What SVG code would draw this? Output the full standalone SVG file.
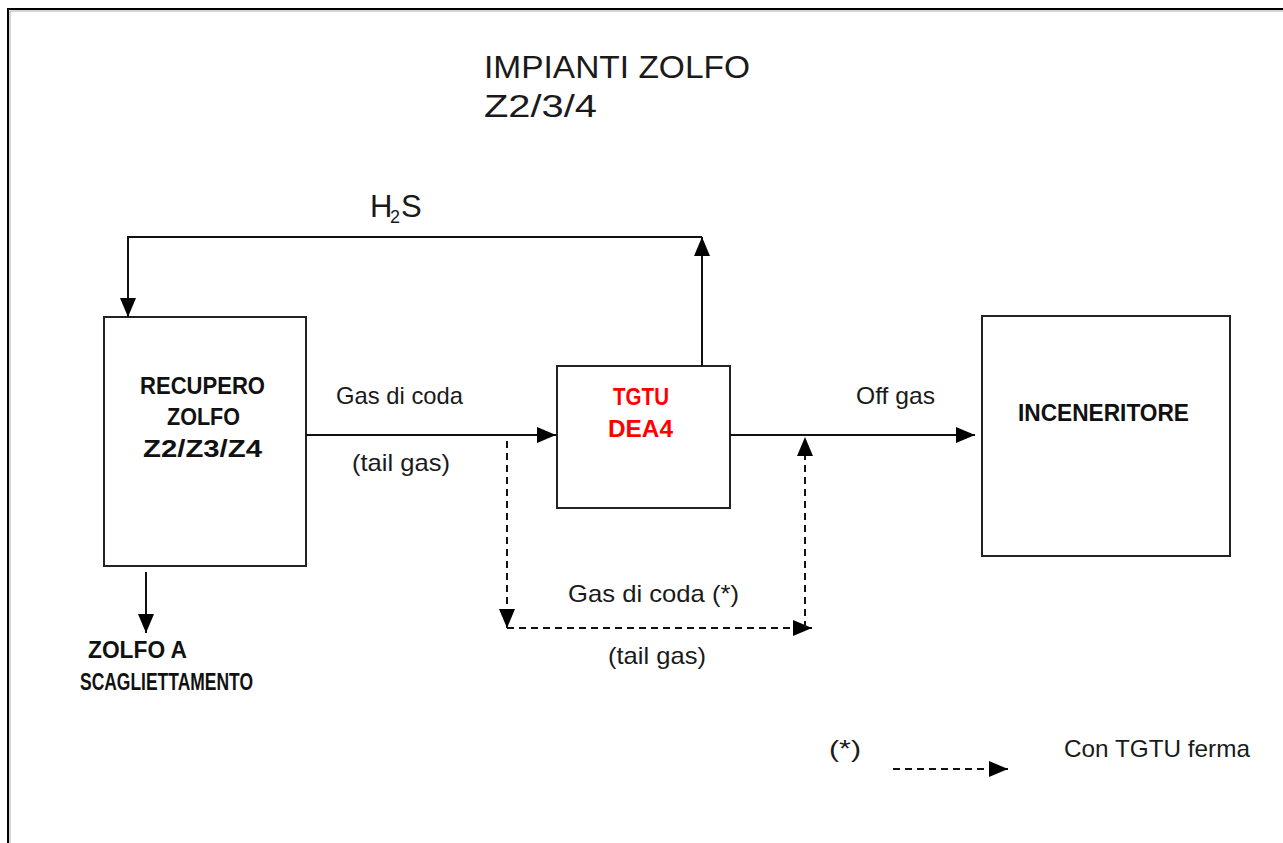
<svg xmlns="http://www.w3.org/2000/svg" width="1283" height="843" viewBox="0 0 1283 843">
<style>
.box{fill:#fff;stroke:#222;stroke-width:2}
.ln{fill:none;stroke:#111;stroke-width:2}
.dash{fill:none;stroke:#111;stroke-width:2;stroke-dasharray:7,5}
.t{font-family:"Liberation Sans",Arial,sans-serif;fill:#1a1a1a}
.b{font-family:"Liberation Sans",Arial,sans-serif;font-weight:bold;fill:#111}
.red{fill:#f00}
</style>
<defs>
<marker id="ah" markerUnits="userSpaceOnUse" markerWidth="20" markerHeight="16" refX="19" refY="8" orient="auto" viewBox="0 0 20 16">
<path d="M0,0 L19,8 L0,16 z" fill="#000"/>
</marker>
</defs>
<rect x="0" y="0" width="1283" height="843" fill="#fff"/>
<path d="M8,843 V9 H1283" fill="none" stroke="#000" stroke-width="2"/>
<path d="M10,843 V11 H1283" fill="none" stroke="#aaa" stroke-width="1"/>
<g id="title">
<text class="t" x="484" y="78" font-size="31" textLength="266" lengthAdjust="spacingAndGlyphs">IMPIANTI ZOLFO</text>
<text class="t" x="484" y="117" font-size="31" textLength="113" lengthAdjust="spacingAndGlyphs">Z2/3/4</text>
</g>
<g id="recupero">
<rect class="box" x="104" y="317" width="202" height="249"/>
<text class="b" x="140" y="394" font-size="23" textLength="125" lengthAdjust="spacingAndGlyphs">RECUPERO</text>
<text class="b" x="167" y="425" font-size="23" textLength="73" lengthAdjust="spacingAndGlyphs">ZOLFO</text>
<text class="b" x="143" y="457" font-size="23" textLength="119" lengthAdjust="spacingAndGlyphs">Z2/Z3/Z4</text>
</g>
<g id="tgtu">
<rect class="box" x="557" y="366" width="173" height="142"/>
<text class="b red" x="613" y="405" font-size="23" textLength="56" lengthAdjust="spacingAndGlyphs">TGTU</text>
<text class="b red" x="608" y="437" font-size="23" textLength="65" lengthAdjust="spacingAndGlyphs">DEA4</text>
</g>
<g id="inceneritore">
<rect class="box" x="982" y="316" width="248" height="240"/>
<text class="b" x="1018" y="421" font-size="23" textLength="171" lengthAdjust="spacingAndGlyphs">INCENERITORE</text>
</g>
<g id="zolfo-out">
<text class="b" x="88" y="658" font-size="23" textLength="99" lengthAdjust="spacingAndGlyphs">ZOLFO A</text>
<text class="b" x="80" y="690" font-size="23" textLength="173" lengthAdjust="spacingAndGlyphs">SCAGLIETTAMENTO</text>
</g>
<g id="connectors">
<line class="ln" x1="702" y1="366" x2="702" y2="237" marker-end="url(#ah)"/>
<polyline class="ln" points="702,237 128,237 128,317" marker-end="url(#ah)"/>
<line class="ln" x1="306" y1="435" x2="556" y2="435" marker-end="url(#ah)"/>
<line class="ln" x1="730" y1="435" x2="975" y2="435" marker-end="url(#ah)"/>
<line class="ln" x1="146" y1="572" x2="146" y2="633" marker-end="url(#ah)"/>
<line class="dash" x1="507" y1="441" x2="507" y2="628" marker-end="url(#ah)"/>
<line class="dash" x1="507" y1="628" x2="812" y2="628" marker-end="url(#ah)"/>
<line class="dash" x1="805" y1="628" x2="805" y2="437" marker-end="url(#ah)"/>
<line class="dash" x1="893" y1="769" x2="1008" y2="769" marker-end="url(#ah)"/>
</g>
<g id="labels">
<text class="t" x="370" y="217" font-size="31">H<tspan x="390" y="223" font-size="18">2</tspan><tspan x="401" y="217">S</tspan></text>
<text class="t" x="336" y="404" font-size="24" textLength="127" lengthAdjust="spacingAndGlyphs">Gas di coda</text>
<text class="t" x="352" y="471" font-size="24" textLength="98" lengthAdjust="spacingAndGlyphs">(tail gas)</text>
<text class="t" x="856" y="404" font-size="24" textLength="79" lengthAdjust="spacingAndGlyphs">Off gas</text>
<text class="t" x="568" y="602" font-size="24" textLength="171" lengthAdjust="spacingAndGlyphs">Gas di coda (*)</text>
<text class="t" x="608" y="664" font-size="24" textLength="98" lengthAdjust="spacingAndGlyphs">(tail gas)</text>
<text class="t" x="829" y="757" font-size="24" textLength="32" lengthAdjust="spacingAndGlyphs">(*)</text>
<text class="t" x="1064" y="757" font-size="24" textLength="186" lengthAdjust="spacingAndGlyphs">Con TGTU ferma</text>
</g>
</svg>
